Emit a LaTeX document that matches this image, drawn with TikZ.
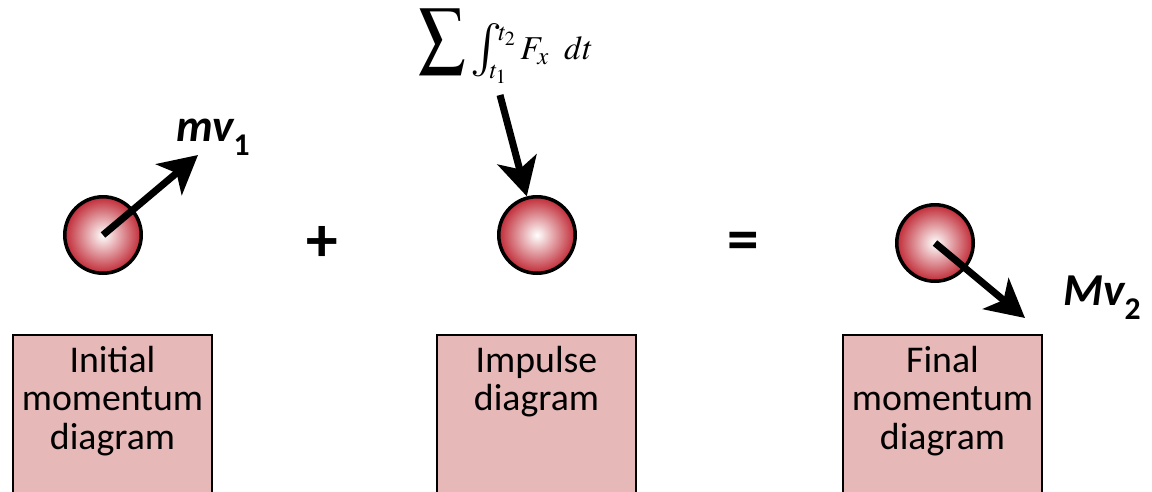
\documentclass[tikz,border=0pt]{standalone}
\usepackage{mathptmx}
\usepackage{graphicx}
\usepackage{fontspec}
\setmainfont{Carlito}
\usetikzlibrary{arrows.meta}

\definecolor{ballred}{RGB}{192,42,54}
\definecolor{boxpink}{RGB}{230,184,183}
\newcommand{\velsub}[1]{\raisebox{-0.3em}{\fontsize{18}{18}\selectfont\upshape #1}}
\newcommand{\bigop}[4]{\mathop{\raisebox{#4}{$\vcenter{\hbox{\scalebox{#1}[#2]{$\textstyle#3$}}}$}}}

\tikzset{
  ball/.style={circle, draw, line width=2pt, inner sep=0pt, minimum size=1.53cm,
    inner color=white, outer color=ballred}, % shaded particle
  momarrow/.style={line width=4pt, -{Stealth[length=7.6mm, width=8mm, inset=2mm]}}, % momentum arrow
  diagbox/.style={draw, line width=1.3pt, fill=boxpink, anchor=north, inner sep=0pt,
    minimum width=3.98cm, minimum height=3.4cm}, % pink box
  boxtext/.style={align=center, anchor=north, inner sep=0pt, yshift=-0.23cm,
    font=\fontsize{21.5}{22}\selectfont}, % box caption
  vlabel/.style={font=\fontsize{26}{26}\selectfont\bfseries\itshape}, % arrow label
  opsign/.style={font=\fontsize{36}{36}\selectfont\bfseries} % + and =
}

\begin{document}
\begin{tikzpicture}[x=0.02cm, y=-0.02cm]
    \useasboundingbox (0,0) rectangle (1152,491);

    \foreach \nm/\x/\y in {initball/103/235, impball/537/235, finball/935/243} {
      \node[ball] (\nm) at (\x,\y) {};
    }

    \coordinate (mvtip) at (198,155);
    \coordinate (Ftail) at (500,95);
    \coordinate (Mvtip) at (1025,318);

    \draw[momarrow] (initball.center) -- (mvtip);
    \draw[momarrow] (Ftail) -- (impball);
    \draw[momarrow] (finball.center) -- (Mvtip);

    \node[vlabel] (mvone) at (213,137) {mv\velsub{1}};
    \node[vlabel] (Mvtwo) at (1102,298) {Mv\velsub{2}};
    \node[font=\fontsize{19}{19}\selectfont, anchor=base] (impulse) at (506,59)
      {$\bigop{2.0}{2.3}{\sum}{5pt}\bigop{1.6}{1.6}{\int}{0pt}\nolimits_{\kern-7pt t_1}^{\kern-2pt\raisebox{-4pt}{$\scriptstyle t_2$}} F_x\;\;dt$};

    \node[opsign] (plus) at (322,244) {+};
    \node[opsign] (equals) at (743,246) {=};

    \foreach \nm/\x/\txt in {initbox/112.5/{Initial\\momentum\\diagram},
        impbox/536.5/{Impulse\\diagram}, finbox/942.5/{Final\\momentum\\diagram}} {
      \node[diagbox] (\nm) at (\x,334) {};
      \node[boxtext] at (\nm.north) {\txt};
    }
\end{tikzpicture}
\end{document}
